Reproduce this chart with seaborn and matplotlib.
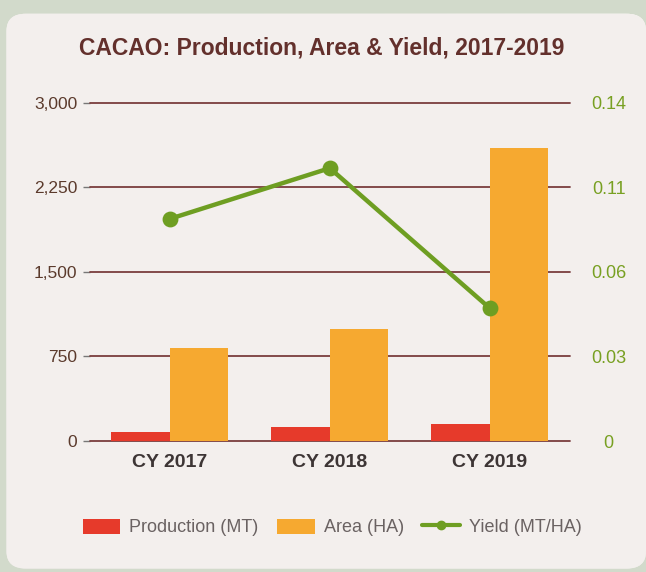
"""
Cacao production, area and yield, 2017-2019 — bar + line combo chart.
"""

import matplotlib
matplotlib.use("Agg")
import matplotlib.pyplot as plt
from matplotlib.lines import Line2D
from matplotlib.patches import FancyBboxPatch, Patch
import numpy as np
import pandas as pd
import seaborn as sns

YEARS      = ["CY 2017", "CY 2018", "CY 2019"]
PRODUCTION = [76, 124, 155]        # MT
AREA       = [829, 991, 2604]      # HA
YIELD      = [0.092, 0.113, 0.055] # MT/HA

LEFT_TICKS   = [0, 750, 1500, 2250, 3000]
LEFT_LABELS  = ["0", "750", "1,500", "2,250", "3,000"]
RIGHT_TICKS  = [0, 0.035, 0.07, 0.105, 0.14]
RIGHT_LABELS = ["0", "0.03", "0.06", "0.11", "0.14"]

RED    = "#e63a2b"
ORANGE = "#f6a930"
GREEN  = "#6e9e22"
GRID   = "#7a3d3d"
BROWN  = "#63302c"

sns.set_theme(style="white")
plt.rcParams["font.family"] = ["Liberation Sans", "DejaVu Sans"]

fig = plt.figure(figsize=(6.46, 5.72), dpi=100, facecolor="#d2dacb")

# soft photo-like backdrop on a rounded panel
bg = fig.add_axes([0, 0, 1, 1], zorder=-10)
bg.set_axis_off()
bg.set_xlim(0, 1)
bg.set_ylim(0, 1)
panel = FancyBboxPatch((0.01, 0.006), 0.99, 0.97,
                       boxstyle="round,pad=0,rounding_size=0.03",
                       facecolor="#f3efed", edgecolor="none",
                       transform=bg.transAxes)
bg.add_patch(panel)
gx, gy = np.meshgrid(np.linspace(0, 1, 200), np.linspace(0, 1, 200))
band = np.exp(-((gy - (0.45 + 0.6 * gx)) ** 2) / 0.03)
shade = 0.95 + 0.05 * band - 0.035 * (1 - gx) * (1 - gy)
img = np.dstack([shade, shade * 0.99, shade * 0.98])
im = bg.imshow(np.clip(img, 0, 1), extent=(0, 1, 0, 1), origin="lower",
               aspect="auto", zorder=0)
im.set_clip_path(panel)

ax = fig.add_axes([0.139, 0.229, 0.743, 0.591])
ax.patch.set_alpha(0)

bars = pd.DataFrame({
    "year":   YEARS * 2,
    "value":  PRODUCTION + AREA,
    "series": ["Production (MT)"] * 3 + ["Area (HA)"] * 3,
})
sns.barplot(data=bars, x="year", y="value", hue="series",
            palette=[RED, ORANGE], width=0.73, saturation=1,
            legend=False, ax=ax, zorder=3, linewidth=0, edgecolor="none")

ax.set_ylim(0, 3000)
ax.set_xlim(-0.5, 2.5)
ax.set_yticks(LEFT_TICKS)
ax.set_yticklabels(LEFT_LABELS)
ax.set_xlabel("")
ax.set_ylabel("")
for y in LEFT_TICKS:
    ax.axhline(y, color=GRID, lw=1.3, zorder=1, clip_on=False)
for s in ax.spines.values():
    s.set_visible(False)
ax.tick_params(axis="y", length=5, width=1, color="#777777", pad=4,
               labelsize=12.5, labelcolor="#5b3a2c", left=True)
ax.tick_params(axis="x", length=0, pad=9, labelsize=14, labelcolor="#3d3535")
for lbl in ax.get_xticklabels():
    lbl.set_fontweight("bold")

ax2 = ax.twinx()
sns.pointplot(x=YEARS, y=YIELD, color=GREEN, markers="o", ax=ax2,
              markersize=9, linewidth=3.2, zorder=5)
ax2.set_ylim(0, 0.14)
ax2.set_xlim(-0.5, 2.5)
ax2.set_yticks(RIGHT_TICKS)
ax2.set_yticklabels(RIGHT_LABELS)
ax2.set_ylabel("")
for s in ax2.spines.values():
    s.set_visible(False)
ax2.tick_params(axis="y", length=0, pad=28, labelsize=13, labelcolor="#78a022")
for lbl in ax2.get_yticklabels():
    lbl.set_horizontalalignment("center")

fig.text(0.498, 0.916, "CACAO: Production, Area & Yield, 2017-2019",
         ha="center", va="center", fontsize=16.5, fontweight="bold", color=BROWN)

handles = [
    Patch(facecolor=RED, edgecolor="none"),
    Patch(facecolor=ORANGE, edgecolor="none"),
    Line2D([0], [0], color=GREEN, lw=3, marker="o", markersize=6),
]
fig.legend(handles, ["Production (MT)", "Area (HA)", "Yield (MT/HA)"],
           loc="center", bbox_to_anchor=(0.514, 0.078), ncol=3, frameon=False,
           fontsize=13, labelcolor="#6a6262", handlelength=2.1,
           handleheight=0.9, columnspacing=1.0, handletextpad=0.5)

fig.savefig("out.png", dpi=100, facecolor=fig.get_facecolor())
